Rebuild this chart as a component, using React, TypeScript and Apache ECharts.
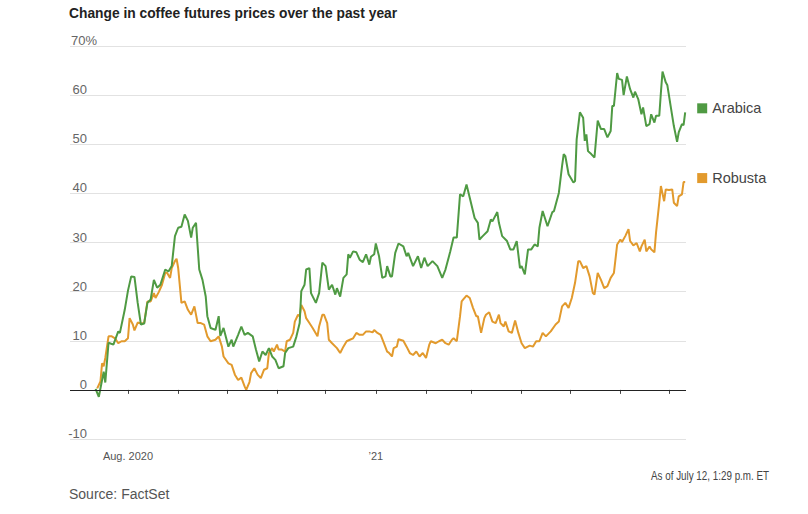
import React, { useEffect, useRef } from "react";
import * as echarts from "echarts";

// Day offsets counted from Aug. 1, 2020
const arabicaDays = [-20,-18,-15,-14,-12,-9,-6,-5,-2,0,2,4,6,8,10,12,14,16,18,20,23,25,27,29,31,33,35,37,39,40,42,44,46,48,49,51,54,56,57,59,62,64,65,68,70,72,74,77,79,81,83,85,87,89,91,93,96,97,99,102,104,106,107,109,110,112,113,116,118,120,122,124,126,128,129,131,133,135,136,137,139,141,143,145,147,149,150,152,153,155,157,159,160,162,163,165,167,170,172,173,176,179,181,183,185,188,191,194,196,199,201,203,205,207,209,211,214,216,217,219,222,224,225,228,229,231,234,236,238,240,242,243,245,247,249,251,253,254,256,259,262,263,266,268,269,270,272,275,276,277,279,281,282,283,284,286,288,290,292,294,296,298,299,300,302,303,305,306,308,310,312,313,315,317,318,320,322,323,325,326,328,329,330,332,333,335,337,339,340,342,343,344];
const arabicaValues = [0.2,-1.4,3.7,1.5,9.6,9.2,11.9,11.6,16.3,20.2,23.1,23,17.7,13.3,13.5,17.7,18.4,22.4,20.8,21.4,24.5,24.1,25.2,31.3,33,33.2,35.7,34.4,31,33,34,24.5,22.4,19,15,12.6,12.2,15,11,12.6,8.8,10.2,8.8,11.2,12.9,11.2,11.6,10.9,8.2,5.8,7.8,7.1,8.5,6.8,6.1,4.4,4.8,7.5,8.5,8.8,10.9,13.6,20.1,21.4,24.5,24.8,19.7,17.7,19.7,25.9,25.2,20.4,21.4,19.4,20.7,19,22.8,23.5,27.6,26.9,28.2,28,26.5,26,27.6,25.5,27.1,27.6,29.8,27.2,22.8,23.1,25.2,23.1,23.1,27.9,29.8,29.2,27.2,27.9,25.2,27.2,24.8,26.9,25.2,26.2,25.2,22.8,24.5,28.2,31,31,39.8,39.4,41.8,39.1,35,34,30.6,31.3,32.3,34.7,34.3,36.2,34,31.3,30.3,28.6,28.6,30.3,24.8,25.2,23.5,28.6,28.6,29.6,29.2,33,36.4,33.3,36.2,36.4,40.1,45.6,48,47.6,43.9,42.2,42.5,51,56.5,55.4,50.7,52,48.6,48,47.3,54.8,53.1,53.1,51.4,52.7,57.8,57.8,64.5,63.3,63.1,60,63.8,61.2,59.5,60.7,59.2,56.1,57.5,53.7,54.1,56.1,54.4,55.8,55.8,60.5,64.8,62.6,62,57.8,53.7,50.5,52.4,54.1,53.9,56.5];

const robustaDays = [-19,-18,-17,-16,-15,-14,-12,-10,-8,-6,-4,-2,0,1,3,4,6,8,10,12,14,16,17,19,21,23,24,26,27,29,30,31,33,35,37,39,41,43,45,47,49,51,54,56,58,59,62,64,66,68,70,72,73,75,76,78,80,82,84,86,87,89,90,92,93,95,97,98,100,102,103,105,106,107,109,110,112,114,117,118,120,121,123,124,126,129,131,133,135,137,139,141,143,145,147,149,151,152,154,156,158,160,161,163,164,166,167,170,172,174,176,178,180,182,184,186,187,190,192,194,196,198,200,201,203,205,206,207,209,211,213,215,216,218,220,221,223,225,227,229,230,232,233,235,237,239,241,243,245,248,250,252,254,256,258,261,264,266,268,270,272,274,276,278,279,281,283,285,287,288,290,292,294,296,298,300,302,304,305,307,309,310,312,314,316,317,319,320,322,323,325,326,328,329,331,332,334,336,337,339,340,342,343,344];
const robustaValues = [0.3,1,1.7,5.4,4.8,6.5,10.9,10.9,10.5,9.5,9.9,9.9,10.5,14.6,13.3,12.1,13.7,13.5,13.6,18,18,19.7,18.7,19.9,21.4,23.8,23.9,22.8,24.8,26.2,26.7,24.8,17.7,18,16.3,15.3,17,13.6,13.6,13.3,10.9,9.9,10.2,10.9,8.8,6.8,5.4,5.1,3.1,2,2.5,0.7,0,1.6,3.4,4.4,3.1,2.4,4.1,4.4,7.5,8.5,7.8,9.2,8.2,8.2,7.8,9.9,10.2,11.6,13.9,15.3,15,17.3,16,14.6,13.6,12.6,10.9,12.9,15.3,15.3,13.6,10.2,9.5,8.5,7.5,8.8,9.9,10.2,10.5,11.6,11.2,11.2,11.9,11.9,11.7,12.2,11.6,11.2,9.5,7.8,7.6,6.8,8.5,8.8,10.3,10,8.8,7.5,7.1,7.8,6.8,7.5,6.5,9.2,9.9,9.5,9.9,10.2,9.5,9.2,10.2,10.5,9.9,15,18,18.4,19.2,18.7,16.7,15,15,11.6,14.6,15.3,15.8,13.9,13.6,15.3,13.6,12.9,13.9,11.9,11.6,14.1,11.6,9.5,8.5,9,8.8,9.9,9.9,11.6,10.9,11.9,13.3,13.9,17,17.7,16.7,18.7,21.8,26.2,26.2,24.8,25.2,23.1,19.7,19.4,23.8,22.4,20.7,21.1,22.8,23.8,29.6,30.6,30.1,31.3,32.7,30.3,29.4,29.9,28.2,29.2,30.6,28.2,29.2,28.6,28,32,38.1,41.5,38.4,40.8,40.7,40.8,38.1,37.4,39.4,39.8,42.3,42.3];

const monthTicks = ["2020-08-01","2020-09-01","2020-10-01","2020-11-01","2020-12-01","2021-01-01","2021-02-01","2021-03-01","2021-04-01","2021-05-01","2021-06-01","2021-07-01"];
const xLabelDates = ["2020-08-01", "2021-01-01"];
const xLabels = ["Aug. 2020", "\u201921"];
const seriesNames = ["Arabica", "Robusta"];

const TITLE = "Change in coffee futures prices over the past year";
const SOURCE = "Source: FactSet";
const ASOF = "As of July 12, 1:29 p.m. ET";

const GREEN = "#4f9a43";
const ORANGE = "#e29a2d";
const FONT = "'Liberation Sans', Arial, sans-serif";

const BASE = Date.UTC(2020, 7, 1);
const DAY = 86400000;

export default function App() {
  const ref = useRef<HTMLDivElement>(null);
  useEffect(() => {
    if (!ref.current) return;
    const chart = echarts.init(ref.current, undefined, { renderer: "svg" });
    const toData = (days: number[], vals: number[]) =>
      days.map((d, i) => [BASE + d * DAY, vals[i]]);
    const labelVals = xLabelDates.map((s) => Date.parse(s));
    const endLabel = (name: string, color: string) => ({
      show: true,
      distance: 12,
      offset: [0, -4],
      formatter: `{s|}{t|${name}}`,
      rich: {
        s: { width: 10, height: 10, backgroundColor: color },
        t: { padding: [0, 0, 0, 5], fontSize: 14.5, color: "#444", fontFamily: FONT },
      },
    });
    chart.setOption({
      animation: false,
      grid: { left: 70, right: 122, top: 46, bottom: 75 },
      xAxis: {
        type: "value",
        min: Date.UTC(2020, 5, 26, 5),
        max: Date.UTC(2021, 6, 11, 12),
        axisLine: { show: false },
        splitLine: { show: false },
        axisTick: {
          show: true,
          customValues: monthTicks.map((s) => Date.parse(s)),
          length: 4,
          lineStyle: { color: "#444" },
        },
        axisLabel: {
          customValues: labelVals,
          formatter: (v: number) => {
            const i = labelVals.indexOf(v);
            return i >= 0 ? xLabels[i] : "";
          },
          margin: 11,
          fontSize: 11,
          color: "#555",
          fontFamily: FONT,
        },
      },
      yAxis: {
        type: "value",
        min: -10,
        max: 70,
        interval: 10,
        axisLine: { show: false },
        axisTick: { show: false },
        splitLine: { lineStyle: { color: "#e2e2e2", width: 1 } },
        axisLabel: {
          inside: true,
          align: "right",
          verticalAlign: "bottom",
          margin: 27,
          formatter: (v: number) => (v === 70 ? "{a|70%}" : `{b|${v}}`),
          rich: {
            a: { fontSize: 13, color: "#666", fontFamily: FONT, padding: [0, 0, -1, 0] },
            b: { fontSize: 13, color: "#666", fontFamily: FONT, padding: [0, 10, -1, 0] },
          },
        },
      },
      series: [
        {
          name: seriesNames[0],
          type: "line",
          data: toData(arabicaDays, arabicaValues),
          showSymbol: false,
          lineStyle: { color: GREEN, width: 2 },
          itemStyle: { color: GREEN },
          endLabel: endLabel(seriesNames[0], GREEN),
          markLine: {
            silent: true,
            symbol: "none",
            label: { show: false },
            lineStyle: { color: "#222", width: 1.2, type: "solid" },
            data: [{ yAxis: 0 }],
          },
          z: 3,
        },
        {
          name: seriesNames[1],
          type: "line",
          data: toData(robustaDays, robustaValues),
          showSymbol: false,
          lineStyle: { color: ORANGE, width: 2 },
          itemStyle: { color: ORANGE },
          endLabel: endLabel(seriesNames[1], ORANGE),
          z: 2,
        },
      ],
      graphic: [
        {
          type: "text",
          x: 69,
          y: 5,
          scaleX: 0.92,
          style: { text: TITLE, fontSize: 15, fontWeight: "bold", fill: "#222", fontFamily: FONT },
        },
        {
          type: "text",
          x: 69,
          y: 487,
          style: { text: SOURCE, fontSize: 14, fill: "#555", fontFamily: FONT },
        },
        {
          type: "text",
          x: 651,
          y: 470,
          scaleX: 0.82,
          style: { text: ASOF, fontSize: 12, fill: "#444", fontFamily: FONT },
        },
      ],
    });
    return () => chart.dispose();
  }, []);
  return (
    <div
      ref={ref}
      style={{ position: "fixed", left: 0, top: 0, width: 808, height: 514, background: "#fff" }}
    />
  );
}
